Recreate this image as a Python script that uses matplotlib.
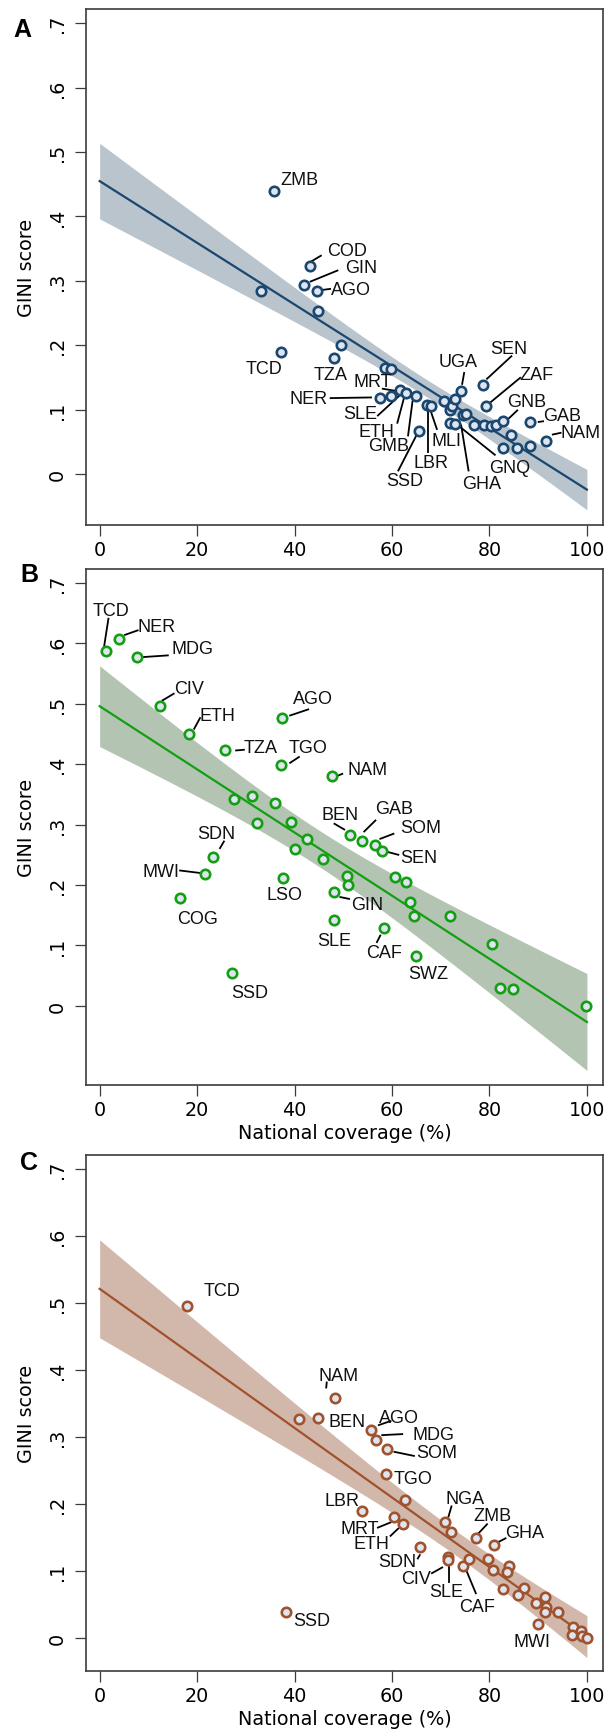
import numpy as np
import matplotlib
matplotlib.use("Agg")
import matplotlib.pyplot as plt

# ---------------- data ----------------
# Panel A
a_x = [35.8, 43.2, 41.9, 44.7, 33.1, 44.9, 49.5, 37.3, 48.1, 58.5, 59.7, 57.6, 59.7, 61.6,
       62.9, 64.9, 65.5, 67.2, 67.9, 70.7, 72.0, 72.4, 73.0, 74.2, 71.9, 73.0, 74.6, 75.2,
       76.8, 78.6, 79.3, 78.8, 80.3, 81.4, 82.7, 82.7, 84.5, 85.7, 88.3, 88.4, 91.7]
a_y = [0.439, 0.323, 0.293, 0.284, 0.284, 0.2525, 0.201, 0.190, 0.181, 0.1645, 0.1635, 0.118,
       0.122, 0.131, 0.126, 0.1205, 0.0667, 0.1076, 0.1065, 0.1138, 0.0988, 0.1065, 0.117,
       0.129, 0.079, 0.078, 0.091, 0.0936, 0.077, 0.1376, 0.1056, 0.077, 0.074, 0.0755,
       0.083, 0.040, 0.060, 0.040, 0.0807, 0.043, 0.0507]

# Panel B
b_x = [1.4, 4.0, 7.6, 12.4, 18.3, 25.7, 37.5, 37.3, 47.6, 27.6, 31.2, 32.2, 35.9, 39.3,
       42.5, 40.1, 51.4, 53.8, 56.6, 58.0, 23.2, 45.8, 21.7, 16.5, 37.7, 50.8, 51.0, 48.0,
       48.1, 60.7, 62.9, 63.7, 64.5, 58.3, 71.8, 64.9, 80.5, 82.2, 84.9, 99.9, 27.2]
b_y = [0.588, 0.6065, 0.578, 0.497, 0.450, 0.4227, 0.4768, 0.398, 0.3797, 0.3416, 0.3466,
       0.3025, 0.336, 0.304, 0.2765, 0.260, 0.283, 0.2727, 0.2666, 0.2555, 0.247, 0.2434,
       0.2185, 0.178, 0.2114, 0.2147, 0.2003, 0.188, 0.1413, 0.2125, 0.2058, 0.1717, 0.1485,
       0.1286, 0.1485, 0.0823, 0.1026, 0.0293, 0.0276, 0.0005, 0.0546]

# Panel C
c_x = [18.0, 48.2, 40.9, 44.8, 55.7, 56.8, 58.9, 58.8, 62.7, 53.8, 60.5, 62.3, 65.7, 70.9,
       72.2, 77.3, 80.9, 71.5, 71.4, 74.6, 75.7, 79.7, 80.7, 84.1, 83.6, 82.7, 87.1, 85.9,
       89.5, 91.4, 91.7, 91.4, 94.1, 89.9, 97.1, 96.9, 98.8, 99.0, 100.0, 38.3]
c_y = [0.495, 0.3578, 0.3269, 0.3279, 0.311, 0.296, 0.282, 0.2448, 0.206, 0.190, 0.181,
       0.170, 0.1353, 0.1736, 0.1587, 0.1493, 0.1393, 0.1214, 0.1164, 0.108, 0.118, 0.118,
       0.1015, 0.107, 0.098, 0.0731, 0.0756, 0.0642, 0.0522, 0.0607, 0.0458, 0.0383, 0.0383,
       0.0214, 0.0174, 0.0045, 0.010, 0.0025, 0.0, 0.0393]

a_codes = ["ZMB", "COD", "GIN", "AGO", "TCD", "TZA", "MRT", "NER", "SLE", "ETH", "GMB", "SSD",
           "LBR", "MLI", "UGA", "SEN", "ZAF", "GNB", "GAB", "NAM", "GNQ", "GHA"]
b_codes = ["TCD", "NER", "MDG", "CIV", "ETH", "TZA", "AGO", "TGO", "NAM", "BEN", "GAB", "SOM",
           "SEN", "SDN", "MWI", "COG", "LSO", "GIN", "SLE", "CAF", "SWZ", "SSD"]
c_codes = ["TCD", "NAM", "BEN", "AGO", "MDG", "SOM", "TGO", "LBR", "MRT", "ETH", "SDN", "NGA",
           "ZMB", "GHA", "CIV", "SLE", "CAF", "MWI", "SSD"]

x_ticks = [0, 20, 40, 60, 80, 100]
y_ticks = [0, 0.1, 0.2, 0.3, 0.4, 0.5, 0.6, 0.7]
y_ticklabels = ["0", ".1", ".2", ".3", ".4", ".5", ".6", ".7"]

# ---------------- layout (label placement: text centre, leader segment) ----------------
a_layout = {
    "ZMB": ((41.0, 0.457), None),
    "COD": ((50.8, 0.347), ((43.4, 0.330), (45.4, 0.339))),
    "GIN": ((53.7, 0.321), ((43.3, 0.299), (48.8, 0.316))),
    "AGO": ((51.6, 0.286), ((45.8, 0.286), (47.3, 0.2875))),
    "TCD": ((33.7, 0.1645), None),
    "TZA": ((47.4, 0.154), None),
    "MRT": ((56.0, 0.143), ((58.1, 0.1325), (60.9, 0.129))),
    "NER": ((42.8, 0.117), ((47.4, 0.118), (55.7, 0.119))),
    "SLE": ((53.5, 0.0936), ((57.1, 0.091), (61.7, 0.123))),
    "ETH": ((56.9, 0.0667), ((61.1, 0.0797), (62.5, 0.1195))),
    "GMB": ((59.3, 0.0444), ((63.3, 0.060), (64.2, 0.1127))),
    "SSD": ((62.7, -0.0099), ((61.3, 0.0056), (65.0, 0.060))),
    "LBR": ((67.9, 0.0186), ((67.4, 0.034), (67.4, 0.0988))),
    "MLI": ((71.1, 0.052), ((69.2, 0.070), (67.9, 0.0988))),
    "UGA": ((73.6, 0.175), ((74.8, 0.157), (74.4, 0.140))),
    "SEN": ((83.9, 0.1956), ((84.5, 0.183), (79.5, 0.148))),
    "ZAF": ((89.6, 0.154), ((86.3, 0.1495), (80.3, 0.112))),
    "GNB": ((87.6, 0.112), ((85.7, 0.0988), (83.9, 0.086))),
    "GAB": ((95.0, 0.091), ((91.0, 0.082), (90.1, 0.081))),
    "NAM": ((98.7, 0.064), ((94.6, 0.064), (93.0, 0.0615))),
    "GNQ": ((84.1, 0.0098), ((81.1, 0.030), (74.0, 0.073))),
    "GHA": ((78.3, -0.014), ((75.7, 0.0056), (74.2, 0.0755))),
}
b_layout = {
    "TCD": ((2.4, 0.6545), ((1.8, 0.6407), (0.9, 0.594))),
    "NER": ((11.6, 0.628), ((7.8, 0.6214), (5.2, 0.614))),
    "MDG": ((19.1, 0.591), ((14.0, 0.580), (9.0, 0.5773))),
    "CIV": ((18.3, 0.5248), ((15.2, 0.5166), (12.9, 0.5055))),
    "ETH": ((24.2, 0.4806), ((20.6, 0.4763), (19.4, 0.4586))),
    "TZA": ((33.0, 0.4283), ((29.6, 0.4238), (28.0, 0.4227))),
    "AGO": ((43.7, 0.5083), ((42.8, 0.4906), (39.1, 0.4806))),
    "TGO": ((42.7, 0.4283), ((40.9, 0.4118), (39.1, 0.4023))),
    "NAM": ((55.0, 0.3907), ((49.8, 0.384), (48.6, 0.380))),
    "BEN": ((49.3, 0.316), ((48.2, 0.3013), (50.2, 0.2919))),
    "GAB": ((60.5, 0.3273), ((56.6, 0.3068), (54.3, 0.2886))),
    "SOM": ((65.8, 0.2958), ((60.3, 0.2848), (57.6, 0.2765))),
    "SEN": ((65.4, 0.2462), ((61.3, 0.250), (59.2, 0.2545))),
    "SDN": ((23.9, 0.2848), ((25.5, 0.272), (24.7, 0.261))),
    "MWI": ((12.5, 0.2224), ((16.5, 0.224), (20.5, 0.220))),
    "COG": ((20.1, 0.1452), None),
    "LSO": ((37.9, 0.1838), None),
    "GIN": ((55.0, 0.1677), ((51.2, 0.177), (49.4, 0.180))),
    "SLE": ((48.1, 0.108), None),
    "CAF": ((58.4, 0.0889), ((56.9, 0.1055), (57.6, 0.1164))),
    "SWZ": ((67.5, 0.053), None),
    "SSD": ((30.8, 0.0215), None),
}
c_layout = {
    "TCD": ((25.2, 0.519), None),
    "NAM": ((49.0, 0.3915), ((46.6, 0.3816), (46.5, 0.374))),
    "BEN": ((50.8, 0.3229), None),
    "AGO": ((61.5, 0.330), ((57.3, 0.318), (59.7, 0.324))),
    "MDG": ((68.6, 0.3045), ((62.1, 0.3045), (58.0, 0.303))),
    "SOM": ((69.2, 0.277), ((64.5, 0.272), (60.5, 0.278))),
    "TGO": ((64.3, 0.2383), None),
    "LBR": ((49.7, 0.205), None),
    "MRT": ((53.4, 0.164), ((57.1, 0.165), (59.7, 0.1727))),
    "ETH": ((55.7, 0.1413), ((59.7, 0.1527), (61.3, 0.1637))),
    "SDN": ((61.1, 0.1139), ((65.3, 0.119), (65.7, 0.1239))),
    "NGA": ((75.0, 0.2085), ((72.2, 0.1966), (71.6, 0.1816))),
    "ZMB": ((80.7, 0.1825), ((79.5, 0.170), (77.7, 0.156))),
    "GHA": ((87.2, 0.1577), ((83.3, 0.149), (81.9, 0.1437))),
    "CIV": ((64.9, 0.089), ((68.2, 0.097), (70.3, 0.1055))),
    "SLE": ((71.1, 0.069), ((71.6, 0.084), (71.6, 0.113))),
    "CAF": ((77.4, 0.0467), ((77.2, 0.067), (75.2, 0.102))),
    "MWI": ((88.7, -0.0055), None),
    "SSD": ((43.5, 0.0269), None),
}

panels = [
    dict(x=a_x, y=a_y, codes=a_codes, layout=a_layout, letter="A", color="#1a476f",
         band="#b9c4cc", ylim=(-0.079, 0.722), xlabel=None,
         rect=(86, 10, 603, 526), letter_xy=(22, 30)),
    dict(x=b_x, y=b_y, codes=b_codes, layout=b_layout, letter="B", color="#12a012",
         band="#b4c4b2", ylim=(-0.131, 0.723), xlabel="National coverage (%)",
         rect=(86, 570, 603, 1086), letter_xy=(29, 575)),
    dict(x=c_x, y=c_y, codes=c_codes, layout=c_layout, letter="C", color="#a0522d",
         band="#d2b8ab", ylim=(-0.049, 0.721), xlabel="National coverage (%)",
         rect=(86, 1156, 603, 1672), letter_xy=(29, 1163)),
]

W, H = 608, 1733
fig = plt.figure(figsize=(W / 100, H / 100), dpi=100)
tick_font = "DejaVu Sans"
lab_font = "Liberation Sans"
spine_col = "#3c3c3c"

for p in panels:
    l, t, r, b = p["rect"]
    ax = fig.add_axes([l / W, 1 - b / H, (r - l) / W, (b - t) / H])
    x = np.array(p["x"]); y = np.array(p["y"])
    # linear fit with 95% CI of the mean prediction, over 0..100
    n = len(x)
    X = np.column_stack([np.ones(n), x])
    beta, *_ = np.linalg.lstsq(X, y, rcond=None)
    resid = y - X @ beta
    s2 = resid @ resid / (n - 2)
    xs = np.linspace(0, 100, 200)
    xm = x.mean(); sxx = ((x - xm) ** 2).sum()
    se = np.sqrt(s2 * (1 / n + (xs - xm) ** 2 / sxx))
    tval = 2.02
    yh = beta[0] + beta[1] * xs
    ax.fill_between(xs, yh - tval * se, yh + tval * se, color=p["band"], lw=0, zorder=1)
    ax.plot(xs, yh, color=p["color"], lw=1.6, zorder=2)
    ax.scatter(x, y, s=46, facecolor="#dfe5f0", edgecolor=p["color"], linewidth=1.9, zorder=4)
    for code in p["codes"]:
        (tx, ty), seg = p["layout"][code]
        ax.text(tx, ty, code, ha="center", va="center", fontsize=13,
                family=lab_font, color="#111111", zorder=5)
        if seg is not None:
            (x0, y0), (x1, y1) = seg
            ax.plot([x0, x1], [y0, y1], color="black", lw=1.3, zorder=3)
    ax.set_xlim(-2.8, 103.3)
    ax.set_ylim(*p["ylim"])
    ax.set_xticks(x_ticks)
    ax.set_xticklabels([str(v) for v in x_ticks], family=tick_font, fontsize=13.8)
    ax.set_yticks(y_ticks)
    ax.set_yticklabels(y_ticklabels, family=tick_font, fontsize=13.8, rotation=90, va="center")
    ax.tick_params(axis="both", length=8, width=0.9, color=spine_col)
    ax.tick_params(axis="x", pad=2.5)
    ax.tick_params(axis="y", pad=6)
    for sp in ax.spines.values():
        sp.set_color(spine_col)
        sp.set_linewidth(1.2)
    ax.text((27 - l) / (r - l), 0.5, "GINI score", rotation=90, transform=ax.transAxes,
            ha="center", va="center", fontsize=13.8, family=tick_font)
    if p["xlabel"]:
        ax.text(0.5, -0.093, p["xlabel"], transform=ax.transAxes, ha="center", va="center",
                fontsize=13.8, family=tick_font)
    lx, ly = p["letter_xy"]
    fig.text(lx / W, 1 - ly / H, p["letter"], fontsize=18, fontweight="bold",
             family="Liberation Sans", ha="center", va="center")

fig.savefig("out.png", dpi=100)
